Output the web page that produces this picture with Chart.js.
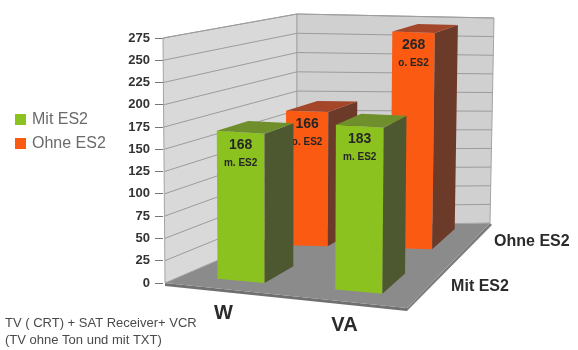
<!DOCTYPE html>
<html>
<head>
<meta charset="utf-8">
<script src="https://cdn.jsdelivr.net/npm/chart.js@4"></script>
<style>
  html, body { margin: 0; padding: 0; background: #fff; }
  #wrap { width: 578px; height: 350px; position: relative; }
</style>
</head>
<body>
<div id="wrap"><canvas id="es2-chart"></canvas></div>
<script>
// data
const categories = ["W", "VA"];
const seriesNames = ["Mit ES2", "Ohne ES2"];
const mitES2 = [168, 183];
const ohneES2 = [166, 268];
const barNotes = ["m. ES2", "o. ES2"];
const yTicks = [0, 25, 50, 75, 100, 125, 150, 175, 200, 225, 250, 275];
const footnote = ["TV ( CRT) + SAT Receiver+ VCR", "(TV ohne Ton und mit TXT)"];

const FONT = "'Liberation Sans', Arial, sans-serif";

// colours per series: front, side, top
const faces = [
    { front: "#8cc21f", side: "#4d5730", top: "#6f8f2c" },
    { front: "#fb5a12", side: "#6c3a28", top: "#a4462a" }
];
// depth slot of each series row (0 = front, 1 = back wall)
const rows = [[0.13, 0.38], [0.68, 0.93]];

// box corners relative to the chart area (floor / top of wall)
function corners(a) {
    const L = a.left, T = a.top, B = a.bottom;
    return {
        f: [[L + 2, B], [L + 244, B + 25], [L + 327, B - 60], [L + 134, B - 57]],
        t: [[L, T], [L + 246, T + 12], [L + 331, T - 20], [L + 134, T - 24]]
    };
}
function bil(q, u, w) {
    return [
        q[0][0] * (1 - u) * (1 - w) + q[1][0] * u * (1 - w) + q[2][0] * u * w + q[3][0] * (1 - u) * w,
        q[0][1] * (1 - u) * (1 - w) + q[1][1] * u * (1 - w) + q[2][1] * u * w + q[3][1] * (1 - u) * w
    ];
}
function makeProj(a) {
    const c = corners(a);
    return function (u, w, t) {
        const f = bil(c.f, u, w), h = bil(c.t, u, w);
        return [f[0] + (h[0] - f[0]) * t, f[1] + (h[1] - f[1]) * t];
    };
}
function poly(ctx, pts, fill, stroke) {
    ctx.beginPath();
    ctx.moveTo(pts[0][0], pts[0][1]);
    for (let i = 1; i < pts.length; i++) ctx.lineTo(pts[i][0], pts[i][1]);
    ctx.closePath();
    ctx.fillStyle = fill;
    ctx.fill();
    if (stroke) { ctx.strokeStyle = stroke; ctx.lineWidth = 1; ctx.stroke(); }
}

const box3d = {
    id: "box3d",
    beforeDatasetsDraw(chart) {
        const ctx = chart.ctx, a = chart.chartArea;
        const P = makeProj(a);
        const ys = chart.scales.y, xs = chart.scales.x;
        const tOf = v => (a.bottom - ys.getPixelForValue(v)) / (a.bottom - a.top);
        const uOf = px => (px - a.left) / (a.right - a.left);
        ctx.save();

        // floor slab
        const f0 = P(0, 0, 0), f1 = P(1, 0, 0), f2 = P(1, 1, 0);
        poly(ctx, [f0, f1, [f1[0], f1[1] + 3], [f0[0], f0[1] + 3]], "#707070");
        poly(ctx, [f1, f2, [f2[0] + 2, f2[1] + 2], [f1[0], f1[1] + 3]], "#7c7c7c");
        poly(ctx, [P(0, 0, 0), P(1, 0, 0), P(1, 1, 0), P(0, 1, 0)], "#8b8b8b");

        // walls
        poly(ctx, [P(0, 0, 0), P(0, 1, 0), P(0, 1, 1), P(0, 0, 1)], "#d9d9d9", "#a4a4a4");
        poly(ctx, [P(0, 1, 0), P(1, 1, 0), P(1, 1, 1), P(0, 1, 1)], "#d0d0d0", "#a4a4a4");
        ctx.strokeStyle = "#9c9c9c";
        ctx.lineWidth = 1;
        ys.ticks.forEach(tk => {
            if (tk.value === 0) return;
            const t = tOf(tk.value);
            const p0 = P(0, 0, t), p1 = P(0, 1, t), p2 = P(1, 1, t);
            ctx.beginPath();
            ctx.moveTo(p0[0], p0[1]);
            ctx.lineTo(p1[0], p1[1]);
            ctx.lineTo(p2[0], p2[1]);
            ctx.stroke();
        });

        // bars, back row first
        for (let d = chart.data.datasets.length - 1; d >= 0; d--) {
            const meta = chart.getDatasetMeta(d);
            const [w0, w1] = rows[d];
            const col = faces[d];
            meta.data.forEach((el, i) => {
                const u0 = uOf(el.x - el.width / 2), u1 = uOf(el.x + el.width / 2);
                const t = tOf(chart.data.datasets[d].data[i]);
                poly(ctx, [P(u0, w0, 0), P(u1, w0, 0), P(u1, w0, t), P(u0, w0, t)], col.front);
                poly(ctx, [P(u1, w0, 0), P(u1, w1, 0), P(u1, w1, t), P(u1, w0, t)], col.side);
                poly(ctx, [P(u0, w0, t), P(u1, w0, t), P(u1, w1, t), P(u0, w1, t)], col.top);
                const a0 = P(u0, w0, t), a1 = P(u1, w0, t);
                const cx = (a0[0] + a1[0]) / 2, cy = (a0[1] + a1[1]) / 2;
                ctx.fillStyle = "#262626";
                ctx.textAlign = "center";
                ctx.textBaseline = "middle";
                ctx.font = "bold 14px " + FONT;
                ctx.fillText(String(chart.data.datasets[d].data[i]), cx, cy + 13);
                ctx.font = "bold 10px " + FONT;
                ctx.fillText(barNotes[d], cx, cy + 31);
            });
        }

        // category labels along the front edge
        ctx.fillStyle = "#2b2b2b";
        ctx.font = "bold 20px " + FONT;
        ctx.textAlign = "center";
        ctx.textBaseline = "middle";
        categories.forEach((c, i) => {
            const p = P(uOf(xs.getPixelForValue(i)), 0, 0);
            ctx.fillText(c, p[0] - 2, p[1] + 24);
        });

        // series names along the depth axis
        ctx.font = "bold 16px " + FONT;
        ctx.textAlign = "left";
        seriesNames.forEach((s, d) => {
            const p = P(1.1, (rows[d][0] + rows[d][1]) / 2, 0);
            ctx.fillText(s, p[0], p[1] + (d ? 2 : -2));
        });

        // legend
        ctx.font = "16px " + FONT;
        ctx.textBaseline = "middle";
        seriesNames.forEach((s, d) => {
            const y = 119 + d * 24;
            ctx.fillStyle = faces[d].front;
            ctx.fillRect(15, y - 5, 11, 11);
            ctx.fillStyle = "#6a6a6a";
            ctx.fillText(s, 32, y + 1);
        });

        // footnote
        ctx.font = "13px " + FONT;
        ctx.fillStyle = "#4a4a4a";
        footnote.forEach((line, i) => ctx.fillText(line, 5, 323 + i * 17));

        ctx.restore();
        return false;
    }
};

new Chart(document.getElementById("es2-chart"), {
    type: "bar",
    data: {
        labels: categories,
        datasets: [
            { label: seriesNames[0], data: mitES2, backgroundColor: faces[0].front },
            { label: seriesNames[1], data: ohneES2, backgroundColor: faces[1].front }
        ]
    },
    options: {
        responsive: true,
        maintainAspectRatio: false,
        animation: false,
        layout: { padding: { left: 120, right: 169, top: 38, bottom: 67 } },
        datasets: { bar: { grouped: false, categoryPercentage: 0.5, barPercentage: 0.8 } },
        plugins: { legend: { display: false }, tooltip: { enabled: false } },
        scales: {
            x: { display: false },
            y: {
                min: 0,
                max: 275,
                afterBuildTicks: s => { s.ticks = yTicks.map(v => ({ value: v })); },
                afterFit: s => { s.width = 43; },
                border: { display: false },
                grid: { drawOnChartArea: false, drawTicks: true, tickLength: 8, color: "#777" },
                ticks: { color: "#333", padding: 5, font: { family: FONT, size: 13, weight: "bold" } }
            }
        }
    },
    plugins: [box3d]
});
</script>
</body>
</html>
